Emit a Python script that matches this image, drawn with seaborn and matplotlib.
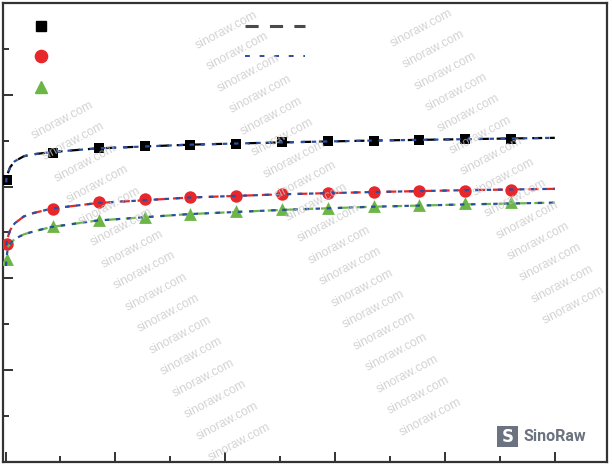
import numpy as np
import pandas as pd
import matplotlib
matplotlib.use("Agg")
import matplotlib.pyplot as plt
import seaborn as sns
from matplotlib.lines import Line2D
from matplotlib.patches import Rectangle
from matplotlib.ticker import MultipleLocator

# ---------------- data ----------------
t = [0.2, 5.2, 10.2, 15.2, 20.2, 25.2, 30.2, 35.2, 40.2, 45.2, 50.2, 55.2]
q_black = [6.14, 6.73, 6.83, 6.88, 6.91, 6.93, 6.96, 6.98, 7.00, 7.01, 7.03, 7.04]
q_red = [4.74, 5.51, 5.66, 5.72, 5.77, 5.80, 5.84, 5.86, 5.88, 5.90, 5.90, 5.92]
q_green = [4.43, 5.14, 5.28, 5.34, 5.41, 5.47, 5.51, 5.53, 5.57, 5.60, 5.64, 5.66]

t_fit = [0.02, 0.1, 0.25, 0.5, 1, 2, 3, 5, 10, 20, 30, 40, 50, 60]
fit1_black = [np.nan, np.nan, 6.29, 6.42, 6.55, 6.66, 6.70, 6.75, 6.83, 6.91, 6.96, 7.00, 7.03, 7.06]
fit1_red = [np.nan, np.nan, 4.90, 5.05, 5.20, 5.35, 5.42, 5.52, 5.64, 5.76, 5.83, 5.88, 5.92, 5.95]
fit1_green = [np.nan, np.nan, 4.68, 4.76, 4.86, 4.96, 5.02, 5.12, 5.26, 5.40, 5.49, 5.56, 5.61, 5.65]
fit2_black = [5.97, 6.18, 6.29, 6.42, 6.55, 6.66, 6.70, 6.75, 6.83, 6.91, 6.96, 7.00, 7.03, 7.06]
fit2_red = [4.60, 4.78, 4.90, 5.05, 5.20, 5.35, 5.42, 5.52, 5.64, 5.76, 5.83, 5.88, 5.92, 5.95]
fit2_green = [4.15, 4.45, 4.66, 4.76, 4.86, 4.96, 5.02, 5.12, 5.26, 5.40, 5.49, 5.56, 5.61, 5.65]

watermark = "sinoraw.com"
brand = "SinoRaw"

# ---------------- styling ----------------
sns.set_theme(style="white")
plt.rcParams["font.family"] = ["DejaVu Sans"]

W, H = 612, 465
fig = plt.figure(figsize=(W / 100, H / 100), dpi=100)
ax = fig.add_axes([3 / W, 2.7 / H, 604 / W, 459.6 / H])

c_black, c_red, c_green, c_blue = "#000000", "#e8272b", "#6cb547", "#2a4fa0"

pts = pd.DataFrame({"t": t, "black": q_black, "red": q_red, "green": q_green})
fits = pd.DataFrame({"t": t_fit,
                     "f1_black": fit1_black, "f1_red": fit1_red, "f1_green": fit1_green,
                     "f2_black": fit2_black, "f2_red": fit2_red, "f2_green": fit2_green})

sns.scatterplot(data=pts, x="t", y="black", marker="s", s=55, color=c_black,
                linewidth=0, ax=ax, zorder=3)
sns.scatterplot(data=pts, x="t", y="red", marker="o", s=80, color=c_red,
                linewidth=0, ax=ax, zorder=3)
sns.scatterplot(data=pts, x="t", y="green", marker="^", s=85, color=c_green,
                linewidth=0, ax=ax, zorder=3)

for name, col in [("black", c_black), ("red", c_red), ("green", c_green)]:
    sns.lineplot(data=fits, x="t", y="f1_" + name, color=col, linewidth=1.6,
                 linestyle=(0, (4.5, 3.5)), ax=ax, zorder=4)
    sns.lineplot(data=fits, x="t", y="f2_" + name, color=c_blue, linewidth=1.6,
                 linestyle=(2.5, (2.0, 3.0)), ax=ax, zorder=5)

ax.set_xlim(-0.28, 65.7)
ax.set_ylim(0, 10)
ax.xaxis.set_major_locator(MultipleLocator(12))
ax.xaxis.set_minor_locator(MultipleLocator(6))
ax.yaxis.set_major_locator(MultipleLocator(2))
ax.yaxis.set_minor_locator(MultipleLocator(1))
ax.tick_params(axis="both", which="both", direction="in", labelleft=False,
               labelbottom=False, color="#333333", width=1.4,
               left=True, bottom=True, top=False, right=False)
ax.tick_params(which="major", length=7.5)
ax.tick_params(which="minor", length=4)
ax.set_xlabel("")
ax.set_ylabel("")
for sp in ax.spines.values():
    sp.set_color("#333333")
    sp.set_linewidth(1.6)

# legends (labels erased in the reference)
h_marks = [Line2D([], [], linestyle="none", marker="s", markersize=7.4, color=c_black),
           Line2D([], [], linestyle="none", marker="o", markersize=8.8, color=c_red),
           Line2D([], [], linestyle="none", marker="^", markersize=9.2, color=c_green)]
leg1 = ax.legend(h_marks, [" ", " ", " "], loc="upper left",
                 bbox_to_anchor=(0.0515, 0.9634), frameon=False, fontsize=10,
                 borderpad=0, borderaxespad=0, handlelength=1.0,
                 handletextpad=0, labelspacing=1.21)
ax.add_artist(leg1)
h_lines = [Line2D([], [], color="#4a4a4a", linewidth=2.2, linestyle=(0, (4.3, 3.7))),
           Line2D([], [], color=c_blue, linewidth=1.4, linestyle=(0, (2.5, 5.0)))]
ax.legend(h_lines, [" ", " "], loc="upper left",
          bbox_to_anchor=(0.4007, 0.9634), frameon=False, fontsize=10,
          borderpad=0, borderaxespad=0, handlelength=4.32,
          handletextpad=0, labelspacing=1.21)

# watermark
bands = [((62, 120), (11.8, 21.5), 16, 0), ((226, 30), (11.35, 21.5), 19, 0),
         ((410, 7), (11.7, 21.3), 15, 1)]
for (x0, y0), (dx, dy), n, i0 in bands:
    for i in range(i0, n):
        fig.text((x0 + i * dx) / W, 1 - (y0 + i * dy) / H, watermark, rotation=28,
                 ha="center", va="center", fontsize=8.8, color="#c4c4c4",
                 alpha=0.75, family="Liberation Sans", zorder=10)

fig.patches.append(Rectangle((497 / W, 1 - 447 / H), 21 / W, 21 / H,
                             transform=fig.transFigure, facecolor="#6b7280",
                             edgecolor="none", zorder=10))
fig.text(507.5 / W, 1 - 436.5 / H, "S", ha="center", va="center", fontsize=12,
         color="white", fontweight="bold", zorder=11)
fig.text(523 / W, 1 - 436 / H, brand, ha="left", va="center", fontsize=11.5,
         color="#6b7280", fontweight="bold", family="Roboto", zorder=11)

fig.savefig("out.png", dpi=100)
